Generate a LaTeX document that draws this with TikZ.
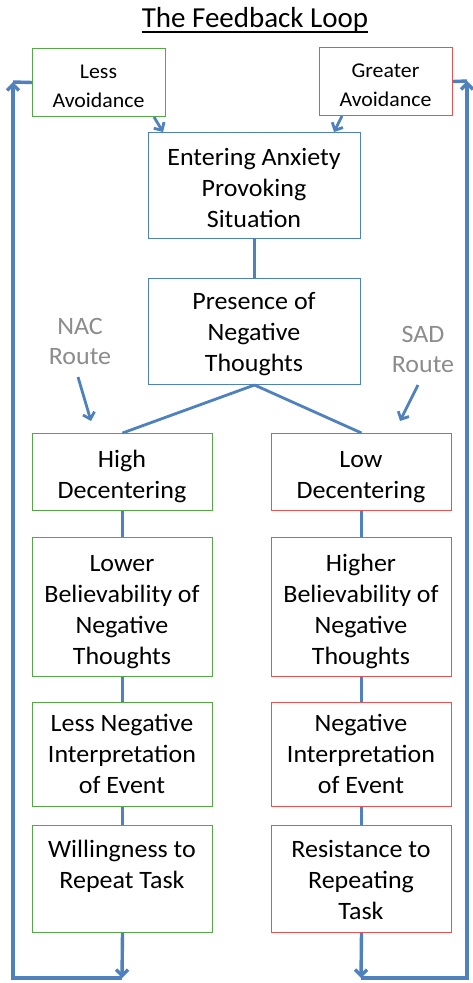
\documentclass[tikz,border=0pt]{standalone}
\usepackage{fontspec}
\setmainfont{Carlito}
\newfontfamily\bodyfont{Carlito}[FakeStretch=1.04]
\usetikzlibrary{arrows.meta}
\definecolor{lblue}{RGB}{79,129,189}
\definecolor{lgreen}{RGB}{84,168,72}
\definecolor{lred}{RGB}{232,82,82}
\definecolor{lgrey}{RGB}{140,140,140}
\newcommand{\firstln}{\rule{0pt}{20pt}}
\newcommand{\firstsm}{\rule{0pt}{17pt}}
\begin{document}
\begin{tikzpicture}[x=1pt,y=-1pt,
  dbox/.style={draw=#1, line width=1pt, fill=white, rectangle, inner sep=0pt, anchor=north west},
  txt/.style={align=center, anchor=north, inner sep=0pt, font=\bodyfont\fontsize{25}{31}\selectfont},
  smtxt/.style={align=center, anchor=north, inner sep=0pt, font=\bodyfont\fontsize{21}{29}\selectfont},
  routetxt/.style={align=center, anchor=north, inner sep=0pt, text=lgrey, font=\bodyfont\fontsize{25}{30}\selectfont},
  tip/.style={-{Straight Barb[length=6pt,width=12pt]}},
  conn/.style={draw=lblue, line width=2.8pt},
  fbline/.style={draw=lblue, line width=3.4pt}
]
\useasboundingbox[fill=white] (0,0) rectangle (472,983);

% title
\node[inner sep=0pt, anchor=base, font=\fontsize{29}{34}\selectfont] (title) at (255,27) {The Feedback Loop};
\draw[line width=1.3pt] ([yshift=-5pt]title.base west) -- ([yshift=-5pt]title.base east);

% top boxes
\node[dbox=lgreen, minimum width=133pt, minimum height=68pt] (less) at (32,48) {};
\node[smtxt] at (98.5,61) {\firstsm Less\\Avoidance};
\node[dbox=lred, minimum width=133pt, minimum height=68pt] (greater) at (319,47) {};
\node[smtxt] at (385.5,60) {\firstsm Greater\\Avoidance};

\node[dbox=lblue, minimum width=212pt, minimum height=106pt] (enter) at (148,132) {};
\node[txt] at (254,145) {\firstln Entering Anxiety\\Provoking\\Situation};
\node[dbox=lblue, minimum width=212pt, minimum height=106pt] (presence) at (148,278) {};
\node[txt] at (254,289) {\firstln Presence of\\Negative\\Thoughts};

% left column
\node[dbox=lgreen, minimum width=180pt, minimum height=77pt] (high) at (32,433) {};
\node[txt] at (122,447) {\firstln High\\Decentering};
\node[dbox=lgreen, minimum width=180pt, minimum height=139pt] (lower) at (32,537) {};
\node[txt] at (122,551) {\firstln Lower\\Believability of\\Negative\\Thoughts};
\node[dbox=lgreen, minimum width=180pt, minimum height=104pt] (lessneg) at (32,702) {};
\node[txt] at (122,711) {\firstln Less Negative\\Interpretation\\of Event};
\node[dbox=lgreen, minimum width=180pt, minimum height=107pt] (will) at (32,825) {};
\node[txt] at (122,837) {\firstln Willingness to\\Repeat Task};

% right column
\node[dbox=lred, minimum width=180pt, minimum height=77pt] (low) at (271,433) {};
\node[txt] at (361,447) {\firstln Low\\Decentering};
\node[dbox=lred, minimum width=180pt, minimum height=139pt] (higher) at (271,537) {};
\node[txt] at (361,551) {\firstln Higher\\Believability of\\Negative\\Thoughts};
\node[dbox=lred, minimum width=180pt, minimum height=104pt] (negint) at (271,702) {};
\node[txt] at (361,711) {\firstln Negative\\Interpretation\\of Event};
\node[dbox=lred, minimum width=180pt, minimum height=107pt] (resist) at (271,825) {};
\node[txt] at (361,837) {\firstln Resistance to\\Repeating\\Task};

% route labels
\node[routetxt] (nac) at (80,314) {\firstln NAC\\Route};
\node[routetxt] (sad) at (423,322) {\firstln SAD\\Route};
\coordinate (nacstart) at (78,377);
\coordinate (nacend) at (91,421);
\coordinate (sadstart) at (418,385);
\coordinate (sadend) at (400,421);
\draw[conn,tip] (nacstart) -- (nacend);
\draw[conn,tip] (sadstart) -- (sadend);

% connectors
\draw[conn,tip] ([xshift=-12pt]less.south east) -- ([xshift=15pt]enter.north west);
\draw[conn,tip] ([xshift=23pt]greater.south west) -- ([xshift=-27pt]enter.north east);
\draw[conn] (enter.south) -- (presence.north);
\draw[conn] (presence.south) -- (high.north);
\draw[conn] (presence.south) -- (low.north);
\draw[conn] (high.south) -- (lower.north);
\draw[conn] (lower.south) -- (lessneg.north);
\draw[conn] (lessneg.south) -- (will.north);
\draw[conn] (low.south) -- (higher.north);
\draw[conn] (higher.south) -- (negint.north);
\draw[conn] (negint.south) -- (resist.north);

% feedback loops
\coordinate (lbot) at (122,978);
\coordinate (lcorner) at (13,978);
\coordinate (ltop) at (13,82);
\coordinate (rbot) at (361,978);
\coordinate (rcorner) at (467,978);
\coordinate (rtop) at (467,81);
\draw[fbline,tip] (will.south) -- (lbot);
\draw[fbline,tip] (lbot) -- (lcorner) -- (ltop);
\draw[fbline] (ltop) -- (less.west);
\draw[fbline,tip] (resist.south) -- (rbot);
\draw[fbline,tip] (rbot) -- (rcorner) -- (rtop);
\draw[fbline] (rtop) -- (greater.east);
\end{tikzpicture}
\end{document}
